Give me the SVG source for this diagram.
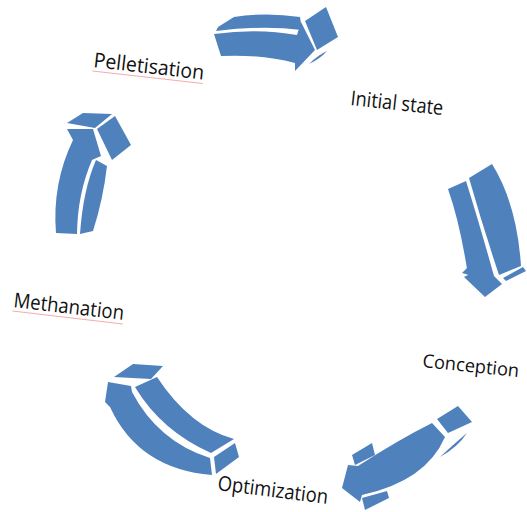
<svg xmlns="http://www.w3.org/2000/svg" width="527" height="512" viewBox="0 0 527 512">
<style>
.a{fill:#4F81BD;stroke:none}
.t{font-family:"Open Sans","Noto Sans","Liberation Sans",sans-serif;font-size:20.5px;fill:#111}
.u{stroke:#f08a8a;stroke-width:1;opacity:0.7}
</style>
<rect width="527" height="512" fill="#fff"/>
<g id="connectors">
<g id="arrow-top">
<path class="a" d="M218,27 L234,17 Q266,12 300,17 L302,30 Q262,25 216,31 Z"/>
<path class="a" d="M214,34 Q258,28 297,35 L301,22 L315,50 L295,71 L295,63 Q260,54 221,56 Z"/>
<path class="a" d="M305,21 L326,7 L338,37 L317,50 Z"/>
<path class="a" d="M309,64 Q318,55 327,51 Q320,59 309,64 Z"/>
</g>
<g id="arrow-right">
<path class="a" d="M448,189 L466,181 Q479.5,224 494,276 L502,284 L485,297 L464,277 L468,275 Q460,223 448,189 Z"/>
<path class="a" d="M469,178 L492,164 Q517,204 521,266 L499,275 Q483,227 469,178 Z"/>
<path class="a" d="M462,273 L468,267 L469,275 Z"/>
<path class="a" d="M503,278 L523,267 L526,271 L506,281 Z"/>
</g>
<g id="arrow-bottom-right">
<path class="a" d="M437,419 L458,406 L472,422 L448,433 Z"/>
<path class="a" d="M432,423 Q398,440 358,466 L348,465 L342,488 L360,502 L362,495 Q426,481 445,437 Z"/>
<path class="a" d="M352,455 L372,443 L375,455 L355,465 Z"/>
<path class="a" d="M368,462 Q380,454 390,451 Q382,458 368,462 Z"/>
<path class="a" d="M362,498 L387,491 L389,498 L365,510 Z"/>
<path class="a" d="M440,457 Q455,443 467,433 Q458,447 440,457 Z"/>
</g>
<g id="arrow-bottom-left">
<path class="a" d="M114,377 L133,364 L163,366 L151,379 Z"/>
<path class="a" d="M108,382 L131,386 L132,392 Q158,441.5 210,458 L212,475 Q138.5,469 110,407 L105,402 Z"/>
<path class="a" d="M214,457 L235,443 L239,457 L216,474 Z"/>
<path class="a" d="M135,387 L157,377 Q190,427 234,439 L211,453 Q161.5,431 135,387 Z"/>
</g>
<g id="arrow-left">
<path class="a" d="M67,123 L83,113 L112,114 L95,128 Z"/>
<path class="a" d="M97,129 L115,116 L131,145 L112,160 Z"/>
<path class="a" d="M67,129 L93,129 L101,156 L92,160 Q77.5,193.5 77,234 L56,233 Q52,183.5 73,140 Z"/>
<path class="a" d="M96,160 L107,166 Q103,200 93,231 L80,234 Q83,190 96,160 Z"/>
</g>
</g>
<g id="node-pelletisation" transform="translate(93,67) rotate(6.5)">
<text class="t" x="0" y="0" textLength="111" lengthAdjust="spacingAndGlyphs">Pelletisation</text>
<line class="u" x1="0" y1="4" x2="111" y2="4"/>
</g>
<g id="node-initial-state" transform="translate(350,105) rotate(6.2)">
<text class="t" x="0" y="0" textLength="93" lengthAdjust="spacingAndGlyphs">Initial state</text>
</g>
<g id="node-conception" transform="translate(422,367) rotate(6)">
<text class="t" x="0" y="0" style="font-size:18.5px" textLength="97" lengthAdjust="spacingAndGlyphs">Conception</text>
</g>
<g id="node-optimization" transform="translate(217,490) rotate(7.2)">
<text class="t" x="0" y="0" textLength="111" lengthAdjust="spacingAndGlyphs">Optimization</text>
</g>
<g id="node-methanation" transform="translate(13,307) rotate(6.7)">
<text class="t" x="0" y="0" textLength="111" lengthAdjust="spacingAndGlyphs">Methanation</text>
<line class="u" x1="0" y1="4" x2="111" y2="4"/>
</g>
</svg>
